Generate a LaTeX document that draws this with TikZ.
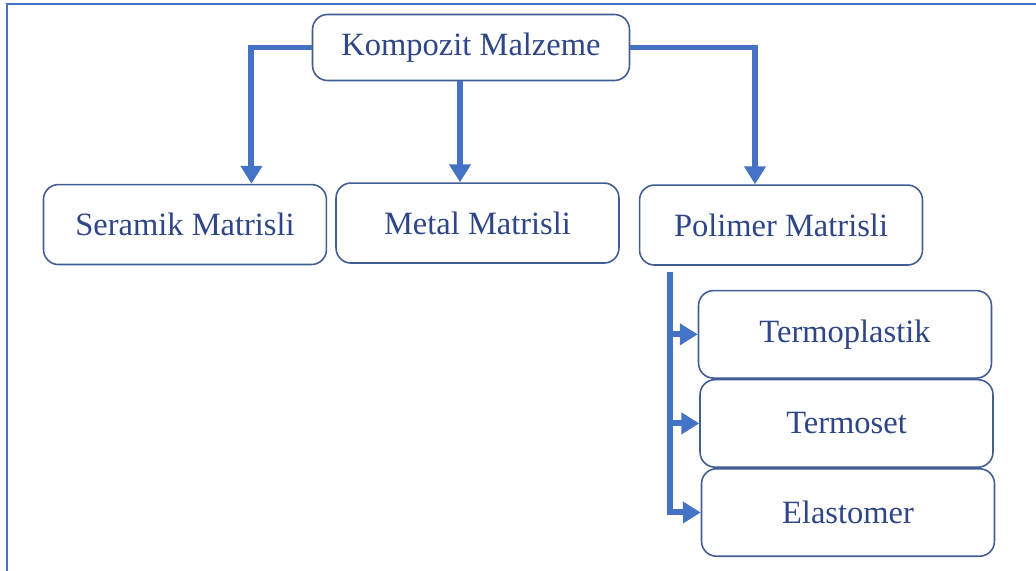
\documentclass[tikz,border=0pt]{standalone}
\usepackage{fontspec}
\setmainfont{Liberation Serif}
\usetikzlibrary{positioning}
\usetikzlibrary{arrows.meta}
\definecolor{arrowblue}{RGB}{68,114,196}
\definecolor{boxline}{RGB}{66,92,150}
\definecolor{textblue}{RGB}{46,70,135}

\begin{document}
\begin{tikzpicture}[x=0.02cm, y=-0.02cm,
mynode/.style={draw=boxline, line width=0.9pt, rounded corners=0.3cm, fill=white, text=textblue, font=\fontsize{18.5}{22}\selectfont, minimum width=5.66cm, minimum height=1.6cm, inner sep=0pt},
subnode/.style={mynode, minimum width=5.86cm, minimum height=1.75cm},
conn/.style={draw=arrowblue, line width=3.4pt, -{Triangle[length=0.36cm, width=0.42cm]}}]

\useasboundingbox (0,0) rectangle (1036,571);
\draw[arrowblue, line width=1pt] (7,571) -- (7,4) -- (1036,4);

\node[mynode, minimum width=6.34cm, minimum height=1.32cm] (komp) at (471,47.5) {Kompozit Malzeme};

\node[mynode, below=2.02cm of komp, xshift=0.13cm] (metal) {Metal Matrisli};
\node[mynode, left=0.16cm of metal, yshift=-0.03cm] (seramik) {Seramik Matrisli};
\node[mynode, right=0.38cm of metal, yshift=-0.04cm] (polimer) {Polimer Matrisli};

\node[subnode, anchor=north west] (termoplastik) at ([xshift=1.18cm, yshift=-0.48cm]polimer.south west) {Termoplastik};
\node[subnode, below=0cm of termoplastik, xshift=0.03cm] (termoset) {Termoset};
\node[subnode, below=0cm of termoset, xshift=0.03cm] (elastomer) {Elastomer};

\draw[conn] (komp.west) -| ([xshift=1.33cm]seramik.north);
\draw[conn] ([xshift=-0.22cm]komp.south) -- ([xshift=-0.22cm]komp.south |- metal.north);
\draw[conn] (komp.east) -| ([xshift=-0.52cm]polimer.north);

\coordinate (trunk) at ([xshift=0.62cm, yshift=-0.12cm]polimer.south west);
\draw[conn] (trunk) |- (elastomer.west);
\draw[conn] (trunk |- termoplastik.west) -- (termoplastik.west);
\draw[conn] (trunk |- termoset.west) -- (termoset.west);

\end{tikzpicture}
\end{document}
